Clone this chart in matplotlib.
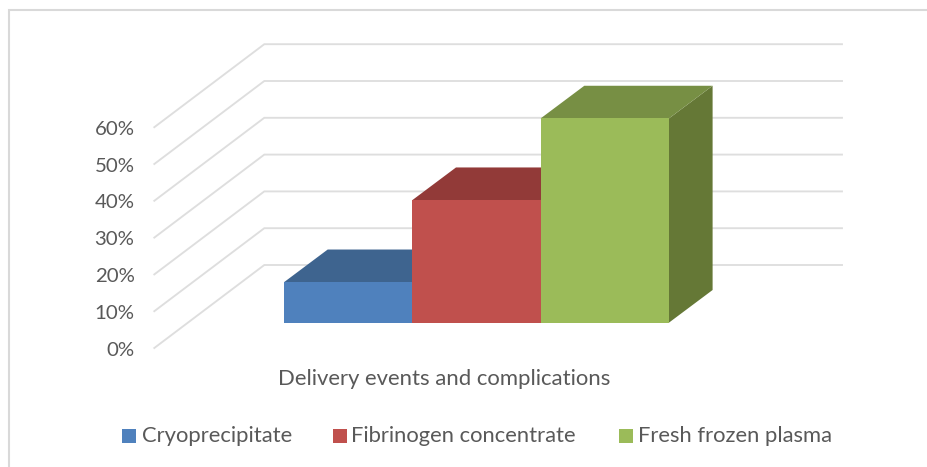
import matplotlib
matplotlib.use("Agg")
import matplotlib.pyplot as plt
from matplotlib.patches import Polygon, Rectangle

plt.rcParams['font.family'] = ['Lato', 'DejaVu Sans']

# Data
categories = ["Cryoprecipitate", "Fibrinogen concentrate", "Fresh frozen plasma"]
values = [11, 33.3, 55.5]
y_ticks = [0, 10, 20, 30, 40, 50, 60]
x_label = "Delivery events and complications"

colors_front = ["#4F81BD", "#C0504D", "#9BBB59"]
colors_top = ["#3E648F", "#923A38", "#778F44"]
colors_side = ["#365A85", "#7F3230", "#657836"]

# Layout, in pixels of the 927x467 figure
W, H = 927, 467
FLOOR_FRONT_X, FLOOR_FRONT_Y = 154.3, 348.0
WALL_DX, WALL_DY = 110.0, 83.0
WALL_RIGHT = 842.0
PX_PER_UNIT = 3.68
BAR_LEFT, BAR_WIDTH = 284.0, 128.3
BAR_BASE_DEPTH = 25.3          # vertical px of floor rise at bar front
BAR_DX, BAR_DY = 43.7, 32.7
GRID = "#DEDEDE"
TEXT = "#595959"

fig = plt.figure(figsize=(W / 100, H / 100), dpi=100)
ax = fig.add_axes([0, 0, 1, 1])
ax.set_xlim(0, W)
ax.set_ylim(H, 0)
ax.axis("off")

# Chart frame: only the top and left edges fall inside the picture
ax.plot([9.5, 9.5, W], [H, 10, 10], color="#D9D9D9", lw=1.5,
        solid_joinstyle="miter", zorder=1)

# Gridlines with the oblique side wall
for v in y_ticks:
    y = FLOOR_FRONT_Y - v * PX_PER_UNIT
    ax.plot([FLOOR_FRONT_X, FLOOR_FRONT_X + WALL_DX, WALL_RIGHT],
            [y, y - WALL_DY, y - WALL_DY],
            color=GRID, lw=1.35, solid_joinstyle="miter", zorder=2)
    ax.text(134.5, y + 2, f"{v}%", ha="right", va="center", fontsize=14.7, color=TEXT)

# 3D bars
base_y = FLOOR_FRONT_Y - BAR_BASE_DEPTH
for i, (val, cf, ct, cs) in enumerate(zip(values, colors_front, colors_top, colors_side)):
    x0 = BAR_LEFT + i * BAR_WIDTH
    x1 = x0 + BAR_WIDTH
    top = base_y - val * PX_PER_UNIT
    z = 3 + i
    ax.add_patch(Polygon([(x1, base_y), (x1 + BAR_DX, base_y - BAR_DY),
                          (x1 + BAR_DX, top - BAR_DY), (x1, top)], fc=cs, ec="none", zorder=z))
    ax.add_patch(Polygon([(x0, top), (x0 + BAR_DX, top - BAR_DY),
                          (x1 + BAR_DX, top - BAR_DY), (x1, top)], fc=ct, ec="none", zorder=z))
    ax.add_patch(Rectangle((x0, top), BAR_WIDTH, base_y - top, fc=cf, ec="none", zorder=z + 0.5))

ax.text(444, 379, x_label, ha="center", va="center", fontsize=15.9, color=TEXT)

# Legend
for name, col, sx, tx in zip(categories, colors_front, [122, 333, 619], [142, 351, 638]):
    ax.add_patch(Rectangle((sx, 429), 14, 14, fc=col, ec="none"))
    ax.text(tx, 435.5, name, ha="left", va="center", fontsize=15.85, color=TEXT)

fig.savefig("out.png", dpi=100)
